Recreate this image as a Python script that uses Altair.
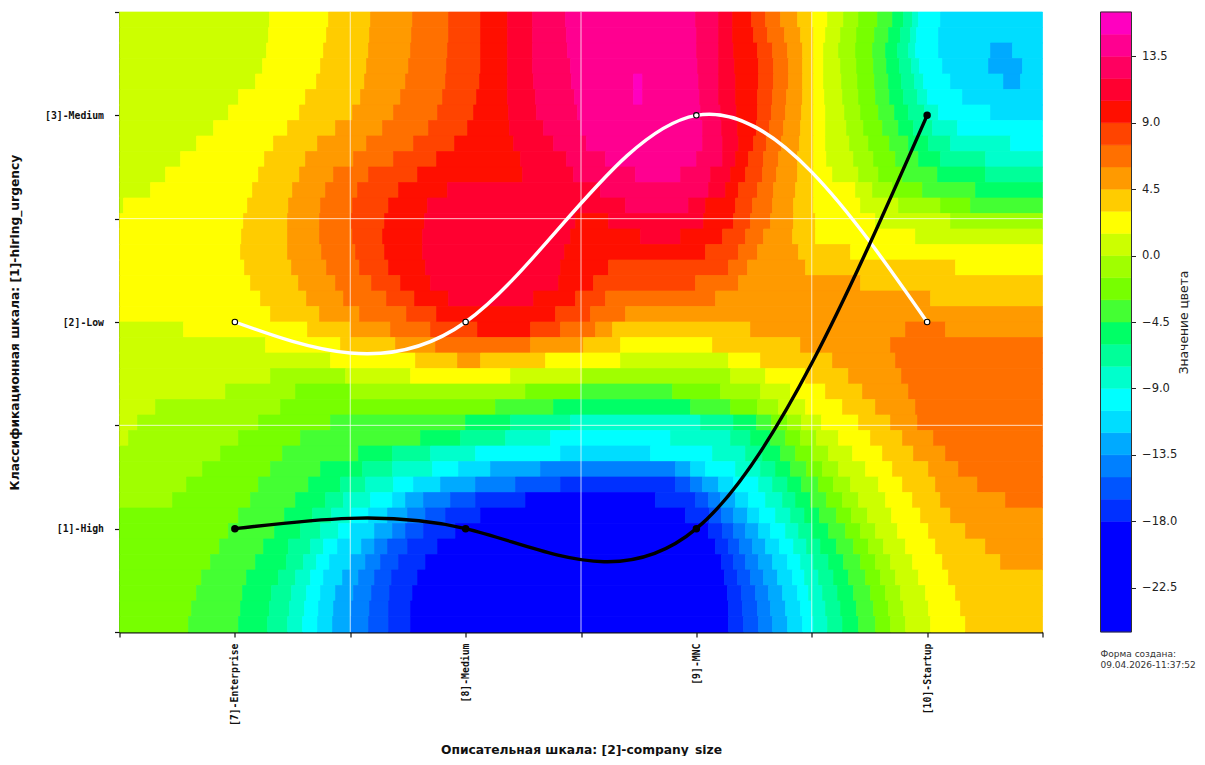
import altair as alt
import pandas as pd

# --- axis categories ---
x_names = ["[7]-Enterprise", "[8]-Medium", "[9]-MNC", "[10]-Startup"]
y_names = ["[1]-High", "[2]-Low", "[3]-Medium"]
x_pos = [1, 2, 3, 4]
white_y = [2, 2, 3, 2]
black_y = [1, 1, 1, 3]
grid_x = [1.5, 2.5, 3.5]
grid_y = [1.5, 2.5]

# --- colour bands ---
levels = [-18, -16.5, -15, -13.5, -12, -10.5, -9, -7.5, -6, -4.5, -3, -1.5, 0, 1.5, 3, 4.5, 6, 7.5, 9, 10.5, 12, 13.5, 15]
colors = ["#0000ff", "#0030ff", "#0055ff", "#0080ff", "#00aaff", "#00ddff", "#00ffff", "#00ffcc",
          "#00ff99", "#00ff66", "#44ff33", "#77ff00", "#a0ff00", "#ccff00", "#ffff00", "#ffcc00",
          "#ff9a00", "#ff7000", "#ff4400", "#ff0f00", "#ff0030", "#ff0060", "#ff0090", "#ff00c0"]
bar_lo = -25.5
bar_hi = 16.5
bar_ticks = [-22.5, -18, -13.5, -9, -4.5, 0, 4.5, 9, 13.5]

# --- field: each row, top to bottom, holds (value, end column) runs
# columns run 119..1042 across the plot
field_rows = [
[(1,269),(2,328),(4,370),(5,412),(7,448),(8,480),(10,507),(11,532),(13,565),(14,695),(13,718),(11,732),(10,751),(8,765),(7,780),(5,797),(4,812),(2,827),(1,843),(-1,858),(-2,877),(-4,892),(-5,903),(-7,912),(-8,918),(-10,940),(-11,1042)],
[(1,268),(2,326),(4,369),(5,411),(7,448),(8,480),(10,507),(11,532),(13,566),(14,696),(13,718),(11,732),(10,753),(8,767),(7,784),(5,800),(4,813),(2,825),(1,840),(-1,856),(-2,874),(-4,888),(-5,900),(-7,910),(-8,916),(-10,938),(-11,1042)],
[(1,266),(2,323),(4,368),(5,410),(7,447),(8,480),(10,507),(11,532),(13,567),(14,696),(13,718),(11,733),(10,757),(8,772),(7,787),(5,802),(4,813),(2,823),(1,838),(-1,855),(-2,872),(-4,885),(-5,897),(-7,908),(-8,915),(-10,938),(-11,990),(-13,1012),(-11,1042)],
[(1,262),(2,320),(4,366),(5,408),(7,446),(8,480),(10,507),(11,532),(13,570),(14,697),(13,718),(11,734),(10,758),(8,773),(7,788),(5,802),(4,813),(2,823),(1,840),(-1,856),(-2,873),(-4,886),(-5,899),(-7,911),(-8,919),(-10,942),(-11,988),(-13,1022),(-11,1042)],
[(1,255),(2,316),(4,364),(5,405),(7,445),(8,479),(10,507),(11,533),(13,571),(14,633),(16,642),(14,698),(13,718),(11,735),(10,758),(8,773),(7,788),(5,802),(4,813),(2,823),(1,841),(-1,857),(-2,874),(-4,888),(-5,901),(-7,914),(-8,923),(-10,950),(-11,1003),(-13,1020),(-11,1042)],
[(1,238),(2,305),(4,360),(5,400),(7,442),(8,476),(10,507),(11,535),(13,574),(14,633),(16,642),(14,699),(13,718),(11,735),(10,757),(8,772),(7,786),(5,802),(4,813),(2,824),(1,842),(-1,858),(-2,875),(-4,889),(-5,903),(-7,917),(-8,927),(-10,962),(-11,1042)],
[(1,228),(2,299),(4,352),(5,393),(7,437),(8,473),(10,508),(11,536),(13,577),(14,700),(13,720),(11,736),(10,757),(8,771),(7,785),(5,801),(4,813),(2,825),(1,844),(-1,860),(-2,878),(-4,894),(-5,908),(-7,924),(-8,938),(-10,990),(-11,1042)],
[(1,213),(2,287),(4,335),(5,382),(7,428),(8,467),(10,509),(11,543),(13,580),(14,702),(13,721),(11,737),(10,756),(8,769),(7,783),(5,800),(4,813),(2,825),(1,846),(-1,863),(-2,882),(-4,898),(-5,913),(-7,932),(-8,957),(-10,1042)],
[(1,196),(2,273),(4,317),(5,366),(7,413),(8,454),(10,513),(11,553),(13,586),(14,702),(13,722),(11,738),(10,753),(8,766),(7,781),(5,799),(4,813),(2,825),(1,849),(-1,868),(-2,889),(-4,908),(-5,928),(-7,950),(-8,1010),(-10,1042)],
[(1,180),(2,264),(4,305),(5,353),(7,393),(8,436),(10,520),(11,566),(13,605),(14,696),(13,722),(11,735),(10,748),(8,763),(7,778),(5,797),(4,813),(2,826),(1,853),(-1,873),(-2,895),(-4,918),(-5,940),(-7,985),(-8,1042)],
[(1,165),(2,258),(4,299),(5,333),(7,368),(8,417),(10,522),(11,573),(13,635),(14,680),(13,710),(11,730),(10,745),(8,762),(7,776),(5,797),(4,813),(2,832),(1,858),(-1,878),(-2,902),(-4,937),(-5,985),(-7,1042)],
[(1,150),(2,252),(4,292),(5,325),(7,357),(8,398),(10,447),(11,600),(13,708),(11,725),(10,738),(8,757),(7,773),(5,795),(4,813),(2,855),(1,872),(-1,892),(-2,922),(-4,975),(-5,1042)],
[(1,123),(2,247),(4,288),(5,320),(7,352),(8,388),(10,427),(11,625),(13,688),(11,705),(10,735),(8,752),(7,772),(5,793),(4,813),(2,860),(1,898),(-1,940),(-2,970),(-4,1042)],
[(2,243),(4,287),(5,319),(7,351),(8,384),(10,424),(11,575),(10,608),(11,703),(10,733),(8,750),(7,770),(5,793),(4,815),(2,875),(1,950),(-1,1042)],
[(2,241),(4,287),(5,319),(7,352),(8,382),(10,422),(11,570),(10,640),(11,680),(10,722),(8,745),(7,763),(5,792),(4,815),(2,915),(1,1042)],
[(2,240),(4,287),(5,321),(7,355),(8,384),(10,422),(11,564),(10,705),(8,738),(7,757),(5,798),(4,850),(2,1042)],
[(2,244),(4,291),(5,326),(7,359),(8,388),(10,425),(11,560),(10,608),(8,728),(7,747),(5,805),(4,955),(2,1042)],
[(2,250),(4,298),(5,335),(7,371),(8,400),(10,430),(11,558),(10,593),(8,695),(7,738),(5,860),(4,1042)],
[(2,260),(4,306),(5,343),(7,386),(8,414),(10,448),(11,533),(10,575),(8,605),(7,715),(5,930),(4,1042)],
[(2,270),(4,319),(5,359),(7,406),(8,436),(10,555),(8,590),(7,625),(5,1042)],
[(1,183),(2,307),(4,350),(5,390),(7,430),(8,477),(10,530),(8,560),(7,595),(5,612),(4,750),(5,905),(7,945),(5,1042)],
[(1,265),(2,340),(4,395),(5,435),(7,530),(5,583),(4,620),(2,712),(4,800),(5,890),(7,1042)],
[(1,330),(2,415),(4,457),(5,480),(4,545),(2,620),(1,728),(2,760),(4,832),(5,895),(7,1042)],
[(1,270),(-1,345),(1,410),(2,510),(1,582),(-1,730),(1,765),(2,805),(4,848),(5,901),(7,1042)],
[(1,225),(-1,295),(-2,350),(-1,525),(-2,580),(-4,672),(-2,720),(-1,760),(1,790),(2,825),(4,862),(5,908),(7,1042)],
[(1,155),(-1,280),(-2,495),(-4,553),(-5,690),(-4,730),(-2,757),(-1,778),(1,805),(2,842),(4,875),(5,915),(7,1042)],
[(1,137),(-1,258),(-2,330),(-4,465),(-5,510),(-7,570),(-8,700),(-7,733),(-5,756),(-4,771),(-2,787),(-1,801),(1,821),(2,858),(4,890),(5,917),(7,1042)],
[(1,128),(-1,238),(-2,300),(-4,420),(-5,460),(-7,505),(-8,550),(-10,670),(-8,730),(-7,750),(-5,770),(-4,785),(-2,800),(-1,816),(1,838),(2,870),(4,902),(5,933),(7,1042)],
[(-1,220),(-2,282),(-4,358),(-5,392),(-7,430),(-8,475),(-10,560),(-11,650),(-10,712),(-8,745),(-7,762),(-5,780),(-4,795),(-2,812),(-1,828),(1,852),(2,882),(4,913),(5,945),(7,1042)],
[(-1,202),(-2,270),(-4,320),(-5,362),(-7,392),(-8,432),(-10,458),(-11,490),(-13,540),(-14,675),(-13,690),(-11,705),(-10,735),(-8,760),(-7,775),(-5,790),(-4,806),(-2,822),(-1,838),(1,865),(2,892),(4,928),(5,958),(7,1042)],
[(-1,186),(-2,258),(-4,308),(-5,340),(-7,365),(-8,393),(-10,413),(-11,440),(-13,475),(-14,515),(-16,560),(-17,675),(-16,690),(-14,702),(-13,718),(-11,733),(-10,758),(-8,772),(-7,787),(-5,801),(-4,818),(-2,833),(-1,850),(1,878),(2,902),(4,935),(5,977),(7,1042)],
[(-1,172),(-2,250),(-4,295),(-5,325),(-7,343),(-8,370),(-10,392),(-11,405),(-13,423),(-14,450),(-16,475),(-17,525),(-24,655),(-17,695),(-16,708),(-14,720),(-13,735),(-11,748),(-10,765),(-8,782),(-7,795),(-5,810),(-4,826),(-2,842),(-1,858),(1,885),(2,912),(4,940),(5,1005),(7,1042)],
[(-2,238),(-4,284),(-5,312),(-7,331),(-8,351),(-10,368),(-11,387),(-13,407),(-14,425),(-16,445),(-17,480),(-24,685),(-17,709),(-16,721),(-14,733),(-13,747),(-11,759),(-10,775),(-8,790),(-7,804),(-5,819),(-4,836),(-2,851),(-1,867),(1,891),(2,920),(4,950),(5,1042)],
[(-2,228),(-4,274),(-5,300),(-7,320),(-8,338),(-10,350),(-11,374),(-13,392),(-14,405),(-16,423),(-17,455),(-24,708),(-17,722),(-16,733),(-14,745),(-13,758),(-11,770),(-10,785),(-8,798),(-7,812),(-5,828),(-4,845),(-2,860),(-1,875),(1,897),(2,928),(4,965),(5,1042)],
[(-2,219),(-4,263),(-5,288),(-7,310),(-8,323),(-10,337),(-11,361),(-13,374),(-14,387),(-16,407),(-17,437),(-24,715),(-17,728),(-16,739),(-14,752),(-13,765),(-11,779),(-10,793),(-8,806),(-7,820),(-5,836),(-4,853),(-2,868),(-1,883),(1,905),(2,935),(4,985),(5,1042)],
[(-2,210),(-4,255),(-5,286),(-7,303),(-8,316),(-10,329),(-11,350),(-13,365),(-14,380),(-16,398),(-17,425),(-24,721),(-17,733),(-16,745),(-14,758),(-13,772),(-11,787),(-10,800),(-8,813),(-7,828),(-5,843),(-4,860),(-2,875),(-1,890),(1,912),(2,942),(4,1000),(5,1042)],
[(-2,201),(-4,246),(-5,278),(-7,295),(-8,310),(-10,323),(-11,342),(-13,358),(-14,374),(-16,391),(-17,417),(-24,724),(-17,737),(-16,750),(-14,763),(-13,777),(-11,792),(-10,804),(-8,818),(-7,833),(-5,848),(-4,865),(-2,880),(-1,895),(1,918),(2,948),(4,1042)],
[(-2,196),(-4,242),(-5,271),(-7,291),(-8,306),(-10,320),(-11,335),(-13,353),(-14,371),(-16,389),(-17,412),(-24,727),(-17,741),(-16,755),(-14,768),(-13,782),(-11,797),(-10,808),(-8,822),(-7,837),(-5,853),(-4,870),(-2,885),(-1,900),(1,925),(2,955),(4,1042)],
[(-2,191),(-4,240),(-5,269),(-7,289),(-8,304),(-10,318),(-11,333),(-13,351),(-14,369),(-16,388),(-17,410),(-24,728),(-17,742),(-16,757),(-14,770),(-13,785),(-11,800),(-10,811),(-8,825),(-7,840),(-5,856),(-4,873),(-2,888),(-1,903),(1,928),(2,960),(4,1042)],
[(-2,188),(-4,238),(-5,267),(-7,287),(-8,302),(-10,317),(-11,332),(-13,350),(-14,368),(-16,388),(-17,410),(-24,728),(-17,743),(-16,758),(-14,772),(-13,787),(-11,802),(-10,813),(-8,827),(-7,842),(-5,858),(-4,875),(-2,890),(-1,905),(1,930),(2,965),(4,1042)],
]

n_rows = len(field_rows)
cells = []
for i, row in enumerate(field_rows):
    start = 119
    for v, end in row:
        cells.append({
            "x": 0.5 + (start - 119) / 923 * 4, "x2": 0.5 + (end - 119) / 923 * 4,
            "y": 3.5 - 3 * (i + 1) / n_rows, "y2": 3.5 - 3 * i / n_rows, "v": v,
        })
        start = end
field = pd.DataFrame(cells)

color_scale = alt.Scale(type="threshold", domain=levels, range=colors)
xs = alt.Scale(domain=[0.5, 4.5], nice=False, zero=False)
ys = alt.Scale(domain=[0.5, 3.5], nice=False, zero=False)

x_expr = "{" + ",".join(f"'{p}':'{n}'" for p, n in zip(x_pos, x_names)) + "}[''+datum.value]||''"
y_expr = "{" + ",".join(f"'{p}':'{n}'" for p, n in zip([1, 2, 3], y_names)) + "}[''+datum.value]||''"

x_axis = alt.Axis(values=[0.5, 1, 1.5, 2, 2.5, 3, 3.5, 4, 4.5], labelExpr=x_expr, labelAngle=270,
                  labelFont="DejaVu Sans Mono", labelFontWeight="bold", labelFontSize=9.8, labelColor="#111",
                  labelPadding=6, labelOverlap=False, labelBaseline="middle", labelAlign="right",
                  tickColor="#111", tickSize=5, tickWidth=1.2, domainColor="#111", domainWidth=2, grid=False,
                  title="Описательная шкала: [2]-company_size", titleFont="DejaVu Sans", titleFontWeight="bold",
                  titleFontSize=12.3, titleColor="#111", titlePadding=18)
y_axis = alt.Axis(values=[0.5, 1, 1.5, 2, 2.5, 3, 3.5], labelExpr=y_expr,
                  labelFont="DejaVu Sans Mono", labelFontWeight="bold", labelFontSize=9.8, labelColor="#111",
                  labelPadding=11, labelOverlap=False, tickColor="#111", tickSize=5, tickWidth=1.2,
                  domainColor="#111", domainWidth=2, grid=False,
                  title="Классификационная шкала: [1]-hiring_urgency", titleFont="DejaVu Sans", titleFontWeight="bold",
                  titleFontSize=12.3, titleColor="#111", titlePadding=23)

X = lambda f: alt.X(f, scale=xs, axis=x_axis)
Y = lambda f: alt.Y(f, scale=ys, axis=y_axis)

base = alt.Chart(field).mark_rect(strokeWidth=0.7).encode(
    x=X("x:Q"),
    x2="x2:Q",
    y=Y("y:Q"),
    y2="y2:Q",
    color=alt.Color("v:Q", scale=color_scale, legend=None),
    stroke=alt.Stroke("v:Q", scale=color_scale, legend=None),
)

vgrid = alt.Chart(pd.DataFrame({"g": grid_x})).mark_rule(color="white", opacity=0.75, size=1).encode(x=X("g:Q"))
hgrid = alt.Chart(pd.DataFrame({"g": grid_y})).mark_rule(color="white", opacity=0.75, size=1).encode(y=Y("g:Q"))

lines_df = pd.DataFrame({"x": x_pos, "w": white_y, "b": black_y})
white_line = alt.Chart(lines_df).mark_line(color="white", strokeWidth=3.4, interpolate="natural").encode(
    x=X("x:Q"), y=Y("w:Q"))
black_line = alt.Chart(lines_df).mark_line(color="black", strokeWidth=3.4, interpolate="natural").encode(
    x=X("x:Q"), y=Y("b:Q"))
white_pts = alt.Chart(lines_df).mark_point(filled=True, fill="white", stroke="black", strokeWidth=1.1, size=30, opacity=1).encode(
    x=X("x:Q"), y=Y("w:Q"))
black_pts = alt.Chart(lines_df).mark_point(filled=True, fill="black", stroke="black", size=30, opacity=1).encode(
    x=X("x:Q"), y=Y("b:Q"))

main = alt.layer(base, vgrid, hgrid, white_line, black_line, white_pts, black_pts).properties(width=923, height=620)

# colour bar
edges = [bar_lo] + levels + [bar_hi]
bar_df = pd.DataFrame({"lo": edges[:-1], "hi": edges[1:]})
bar_df["mid"] = (bar_df["lo"] + bar_df["hi"]) / 2
bs = alt.Scale(domain=[bar_lo, bar_hi], nice=False, zero=False)
bar = alt.Chart(bar_df).mark_rect(strokeWidth=0.5).encode(
    x=alt.value(0), x2=alt.value(31),
    y=alt.Y("lo:Q", scale=bs, axis=alt.Axis(
        orient="right", values=bar_ticks, format=".1f", labelFont="DejaVu Sans", labelFontSize=11.5,
        labelColor="#222", tickColor="#222", tickSize=4, domain=False, grid=False, labelPadding=6,
        title="Значение цвета", titleFont="DejaVu Sans", titleFontSize=12.3, titleFontWeight="normal",
        titleColor="#222", titlePadding=14, titleAngle=270)),
    y2="hi:Q",
    color=alt.Color("mid:Q", scale=color_scale, legend=None),
    stroke=alt.Stroke("mid:Q", scale=color_scale, legend=None),
)
frame = alt.Chart(pd.DataFrame({"a": [0]})).mark_rect(fill=None, stroke="#333", strokeWidth=1).encode(
    x=alt.value(0), x2=alt.value(31), y=alt.value(0), y2=alt.value(620))
stamp = alt.Chart(pd.DataFrame({"t": ["Форма создана:\n09.04.2026-11:37:52"]})).mark_text(
    align="left", baseline="top", lineBreak="\n", font="DejaVu Sans", fontSize=9, color="#333", lineHeight=10.5
).encode(x=alt.value(0), y=alt.value(638), text="t:N")

side = alt.layer(bar, frame, stamp).properties(width=31, height=620)

chart = alt.hconcat(main, side, spacing=52).resolve_scale(color="independent", stroke="independent").properties(
    padding={"left": 0.5, "top": -1, "right": 0, "bottom": 0},
    background="white",
).configure_view(stroke=None)

chart.save("out.html", embed_options={"renderer": "svg", "actions": False})
